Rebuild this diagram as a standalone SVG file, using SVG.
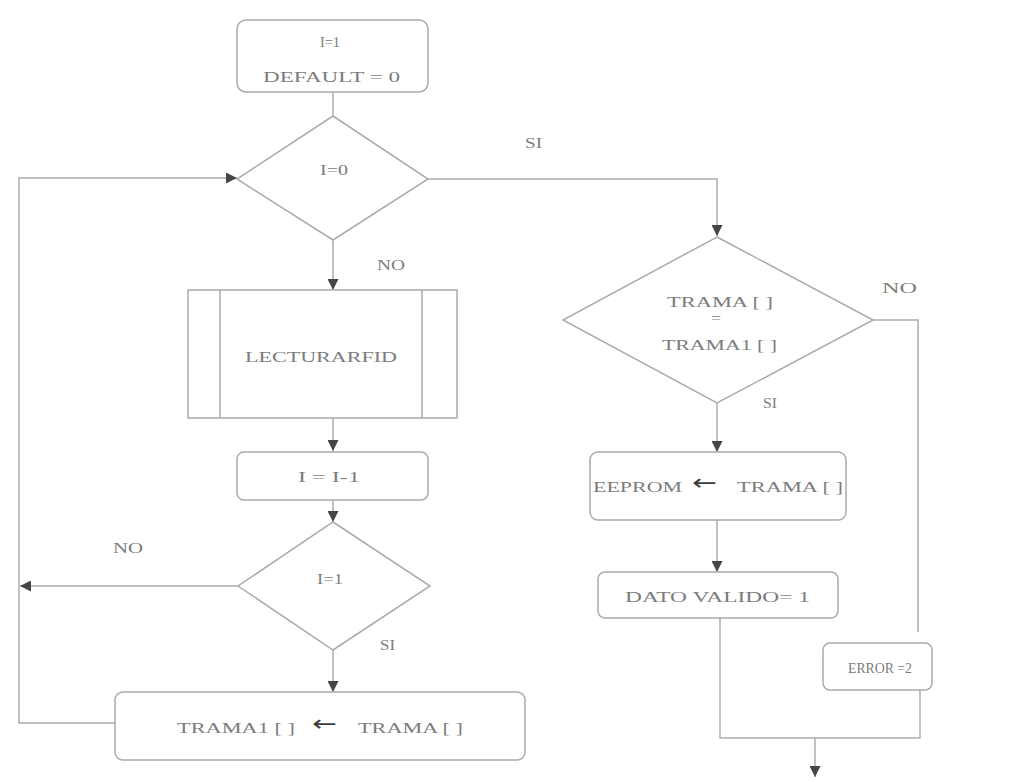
<svg xmlns="http://www.w3.org/2000/svg" width="1014" height="782" viewBox="0 0 1014 782">
  <style>
    .shape { fill: #ffffff; stroke: #ababab; stroke-width: 1.5; }
    .wire { fill: none; stroke: #adadad; stroke-width: 1.5; }
    .lbl { font-family: "Liberation Serif", "Times New Roman", serif; font-size: 15px; fill: #7c7c7c; }
    .arr { font-family: "DejaVu Sans", sans-serif; font-size: 22px; fill: #3c3c3c; }
  </style>
  <defs>
    <marker id="head" viewBox="0 0 10 10" refX="10" refY="5" markerWidth="11" markerHeight="11" markerUnits="userSpaceOnUse" orient="auto">
      <path d="M0,0 L10,5 L0,10 z" fill="#454545"/>
    </marker>
  </defs>
  <rect width="1014" height="782" fill="#ffffff"/>

  <!-- connectors -->
  <g id="connectors">
    <line class="wire" x1="333" y1="92" x2="333" y2="116"/>
    <polyline class="wire" points="428,179 717,179 717,236" marker-end="url(#head)"/>
    <line class="wire" x1="333" y1="240" x2="333" y2="290" marker-end="url(#head)"/>
    <line class="wire" x1="333" y1="418" x2="333" y2="451" marker-end="url(#head)"/>
    <line class="wire" x1="333" y1="500" x2="333" y2="522" marker-end="url(#head)"/>
    <line class="wire" x1="238" y1="586" x2="20" y2="586" marker-end="url(#head)"/>
    <line class="wire" x1="333" y1="650" x2="333" y2="692" marker-end="url(#head)"/>
    <polyline class="wire" points="115,723 19,723 19,178 237,178" marker-end="url(#head)"/>
    <line class="wire" x1="717" y1="403" x2="717" y2="452" marker-end="url(#head)"/>
    <line class="wire" x1="717" y1="520" x2="717" y2="572" marker-end="url(#head)"/>
    <polyline class="wire" points="873,320 918,320 918,632"/>
    <polyline class="wire" points="720,618 720,738 920,738 920,690"/>
    <line class="wire" x1="815" y1="738" x2="815" y2="777" marker-end="url(#head)"/>
    <text class="lbl" x="525" y="148" textLength="17" lengthAdjust="spacingAndGlyphs">SI</text>
    <text class="lbl" x="377" y="270" textLength="28" lengthAdjust="spacingAndGlyphs">NO</text>
    <text class="lbl" x="113" y="553" textLength="30" lengthAdjust="spacingAndGlyphs">NO</text>
    <text class="lbl" x="380" y="650" textLength="15" lengthAdjust="spacingAndGlyphs">SI</text>
    <text class="lbl" x="763" y="408" textLength="14" lengthAdjust="spacingAndGlyphs">SI</text>
    <text class="lbl" x="882" y="293" textLength="35" lengthAdjust="spacingAndGlyphs">NO</text>
  </g>

  <!-- start: initial values -->
  <g id="init">
    <rect class="shape" x="237" y="20" width="191" height="72" rx="9"/>
    <text class="lbl" x="320" y="47" textLength="20" lengthAdjust="spacingAndGlyphs">I=1</text>
    <text class="lbl" x="263" y="82" textLength="137" lengthAdjust="spacingAndGlyphs">DEFAULT = 0</text>
  </g>

  <!-- decision I=0 -->
  <g id="check-zero">
    <polygon class="shape" points="333,116 428,179 333,240 237,179"/>
    <text class="lbl" x="320" y="175" textLength="28" lengthAdjust="spacingAndGlyphs">I=0</text>
  </g>

  <!-- subprocess LECTURARFID -->
  <g id="read-rfid">
    <rect class="shape" x="188" y="290" width="269" height="128"/>
    <line class="shape" x1="220" y1="290" x2="220" y2="418"/>
    <line class="shape" x1="422" y1="290" x2="422" y2="418"/>
    <text class="lbl" x="245" y="362" textLength="152" lengthAdjust="spacingAndGlyphs">LECTURARFID</text>
  </g>

  <!-- decrement -->
  <g id="decrement">
    <rect class="shape" x="237" y="452" width="191" height="48" rx="7"/>
    <text class="lbl" x="298" y="482" textLength="62" lengthAdjust="spacingAndGlyphs">I = I-1</text>
  </g>

  <!-- decision I=1 -->
  <g id="check-one">
    <polygon class="shape" points="333,522 430,586 333,650 238,586"/>
    <text class="lbl" x="317" y="584" textLength="26" lengthAdjust="spacingAndGlyphs">I=1</text>
  </g>

  <!-- copy frame -->
  <g id="copy-frame">
    <rect class="shape" x="115" y="692" width="410" height="68" rx="8"/>
    <text class="lbl" x="177" y="733" textLength="118" lengthAdjust="spacingAndGlyphs">TRAMA1 [ ]</text>
    <text class="arr" x="312" y="731" textLength="25" lengthAdjust="spacingAndGlyphs">←</text>
    <text class="lbl" x="358" y="733" textLength="105" lengthAdjust="spacingAndGlyphs">TRAMA [ ]</text>
  </g>

  <!-- decision compare frames -->
  <g id="compare">
    <polygon class="shape" points="717,237 873,320 717,403 563,320"/>
    <text class="lbl" x="667" y="307" textLength="106" lengthAdjust="spacingAndGlyphs">TRAMA [ ]</text>
    <text class="lbl" x="711" y="323" textLength="10" lengthAdjust="spacingAndGlyphs">=</text>
    <text class="lbl" x="662" y="350" textLength="115" lengthAdjust="spacingAndGlyphs">TRAMA1 [ ]</text>
  </g>

  <!-- store to EEPROM -->
  <g id="store">
    <rect class="shape" x="590" y="452" width="256" height="68" rx="8"/>
    <text class="lbl" x="593" y="492" textLength="89" lengthAdjust="spacingAndGlyphs">EEPROM</text>
    <text class="arr" x="692" y="490" textLength="25" lengthAdjust="spacingAndGlyphs">←</text>
    <text class="lbl" x="737" y="492" textLength="106" lengthAdjust="spacingAndGlyphs">TRAMA [ ]</text>
  </g>

  <!-- valid flag -->
  <g id="valid">
    <rect class="shape" x="598" y="572" width="240" height="46" rx="7"/>
    <text class="lbl" x="625" y="602" textLength="185" lengthAdjust="spacingAndGlyphs">DATO VALIDO= 1</text>
  </g>

  <!-- error flag -->
  <g id="error">
    <rect class="shape" x="823" y="643" width="109" height="47" rx="7"/>
    <text class="lbl" x="848" y="673" textLength="64" lengthAdjust="spacingAndGlyphs">ERROR =2</text>
  </g>
</svg>
